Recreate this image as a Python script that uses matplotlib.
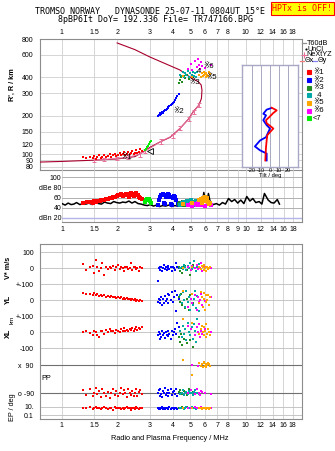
import numpy as np
import matplotlib
matplotlib.use('Agg')
import matplotlib.pyplot as plt
from matplotlib.lines import Line2D
from matplotlib.ticker import NullLocator

plt.rcParams['font.family'] = ['Liberation Sans', 'DejaVu Sans', 'Noto Sans CJK JP']

# axis ticks
freq_ticks = [1, 1.5, 2, 3, 4, 5, 6, 7, 8, 10, 12, 14, 16, 18]
freq_labels = ['1', '1.5', '2', '3', '4', '5', '6', '7', '8', '10', '12', '14', '16', '18']
amp_ticks = [1, 1.5, 2, 3, 4, 5, 6, 7, 8, 9, 10, 12, 14, 16, 18]
amp_labels = ['1', '1.5', '2', '3', '4', '5', '6', '7', '8', '9', '10', '12', '14', '16', '18']
height_ticks = [80, 90, 100, 120, 150, 200, 300, 400, 600, 800]

# true height profile (MHz, km)
prof_f = [0.76, 1.0, 1.5, 2.0, 2.5, 2.75, 3.0, 3.42, 3.88, 4.4, 4.9, 5.17, 5.55, 5.74,
          5.78, 5.72, 5.5, 5.1, 4.38, 3.63, 3.0, 2.5, 2.0]
prof_h = [87, 88, 90, 92, 96, 104, 113, 125, 136, 160, 190, 215, 242, 273,
          318, 350, 372, 393, 458, 515, 580, 660, 745]

# NeXtYZ points
nxyz_f = [1.50, 1.70, 2.00, 2.30, 2.65, 2.85, 3.45, 4.00, 4.40, 4.90, 5.20, 5.55]
nxyz_h = [90, 91, 93, 95, 100, 106, 126, 140, 160, 190, 215, 242]
nxyz_err = [3, 3, 3, 3, 4, 4, 5, 5, 6, 7, 8, 9]

# echo 1 (red)
f_red = [1.30, 1.36, 1.42, 1.47, 1.50, 1.53, 1.56, 1.60, 1.63, 1.66,
         1.70, 1.74, 1.78, 1.82, 1.86, 1.90, 1.94, 1.98, 2.02, 2.06,
         2.10, 2.14, 2.18, 2.22, 2.26, 2.30, 2.34, 2.38, 2.42, 2.46,
         2.50, 2.54, 2.58, 2.62, 2.67, 2.72]
h_red = [95, 93, 96, 94, 97, 92, 95, 98, 94, 96, 99, 95, 97, 100, 96, 98, 101, 97, 99, 103,
         98, 100, 104, 99, 101, 105, 100, 102, 106, 101, 103, 108, 102, 105, 110, 107]
amp_red = [50, 51, 52, 50, 53, 52, 54, 53, 55, 56, 55, 57, 58, 60, 59, 62, 61, 63, 65, 64,
           66, 63, 65, 67, 64, 62, 66, 68, 65, 63, 67, 69, 64, 62, 60, 58]
vs_red = [25, -10, 5, 15, -30, 50, 10, -20, 0, 30, -40, 5, -5, 10, 0, 15, -10, 5, 20, -5,
          10, 0, -15, 5, 10, -5, 0, 35, -10, 5, 10, -5, 0, -20, 5, 0]
yl_red = [45, 40, 42, 35, 48, 30, 38, 28, 32, 25, 30, 22, 25, 20, 24, 18, 22, 15, 20, 12,
          18, 10, 15, 8, 12, 5, 10, 2, 8, 0, 5, -2, 3, -5, 0, -3]
xl_red = [0, 5, -5, -15, 10, 0, -20, -30, 5, 10, -10, 15, 0, 20, 5, 10, -5, 15, 10, 0,
          20, 5, 25, 10, 15, 5, 20, 15, 25, 10, 20, 30, 15, 25, 20, 30]
pp_red = [-70, -100, -60, -110, -85, -55, -95, -75, -115, -65, -90, -105, -80, -120, -90, -60,
          -100, -75, -110, -85, -55, -95, -70, -90, -115, -65, -85, -100, -75, -110, -90, -60,
          -105, -80, -70, -95]
ep_red = [6, 4, 8, 3, 5, 7, 4, 6, 3, 5, 9, 4, 3, 6, 5, 2, 7, 4, 5, 4,
          3, 6, 3, 5, 8, 4, 5, 2, 6, 5, 3, 7, 4, 3, 5, 4]

# echo 2 (blue)
f_blue = [3.32, 3.36, 3.40, 3.44, 3.48, 3.52, 3.56, 3.60, 3.64, 3.68,
          3.72, 3.76, 3.80, 3.85, 3.90, 3.95, 4.00, 4.06, 4.12, 4.18, 4.25, 4.32]
h_blue = [198, 204, 203, 209, 208, 214, 212, 219, 221, 224, 228, 233, 231, 238, 243, 247,
          253, 259, 266, 274, 284, 296]
amp_blue = [45, 55, 62, 64, 65, 66, 64, 50, 47, 62, 65, 66, 64, 62, 48, 46, 60, 63, 61, 55, 47, 45]
vs_blue = [-80, 0, 10, -10, 5, -15, 0, 20, -5, 10, -10, 0, 15, -5, 5, -20, 10, 0, -10, 30, 5, 0]
yl_blue = [-10, 10, -20, 0, 20, -30, 5, -15, 25, -5, 10, 40, -20, 30, 0, 50, -10, 20, 60, -70, 30, 10]
xl_blue = [-20, 0, -40, -10, -30, 10, -20, -5, -35, 0, -15, -25, 10, -10, -40, 5, -20, 0, 20, -10, 60, 30]
pp_blue = [-90, -70, -105, -60, -95, -115, -75, -90, -55, -100, -85, -70, -110, -90, -65, -100,
           -80, -75, -95, -60, -105, -85]
ep_blue = [5, 3, 6, 3, 4, 7, 3, 5, 3, 6, 4, 3, 5, 7, 3, 4, 6, 3, 5, 4, 3, 6]

# echo 3 (dark green)
f_dg = [4.35, 4.40, 4.45, 4.52, 4.60, 4.70, 4.80, 4.90, 5.00, 5.15]
h_dg = [360, 380, 400, 370, 410, 395, 420, 390, 430, 405]
amp_dg = [48, 50, 46, 52, 45, 49, 51, 47, 50, 46]
vs_dg = [10, -20, 0, -30, 5, 15, -10, 0, -45, 20]
yl_dg = [20, -10, 40, -30, 0, -50, 10, -60, 30, -20]
xl_dg = [-30, -60, -10, -80, -40, 20, -70, 0, -50, -90]
pp_dg = [-80, -70, -90, -95, -75, -85, -100, -65, -90, -80]
ep_dg = [5, 6, 4, 8, 3, 5, 7, 4, 6, 5]

# echo 4 (teal)
f_tl = [4.40, 4.48, 4.55, 4.62, 4.70, 4.76, 4.84, 4.92, 5.00, 5.08, 5.15, 5.22, 5.30, 5.38, 5.45, 5.55]
h_tl = [420, 410, 440, 400, 430, 415, 450, 405, 435, 420, 445, 410, 430, 400, 440, 415]
amp_tl = [45, 50, 48, 52, 47, 53, 46, 50, 55, 48, 52, 46, 50, 54, 47, 49]
vs_tl = [0, 10, -5, 20, 5, -10, 15, 0, 30, -5, 10, 45, 0, -15, 5, 25]
yl_tl = [30, -20, 50, 0, -40, 60, -10, 20, -60, 40, -30, 10, 55, -50, 25, -70]
xl_tl = [10, -30, 40, -10, 20, -50, 60, 0, -20, 30, -40, 50, 10, -60, 80, -10]
pp_tl = [-95, -85, -70, -100, -90, -80, -95, -75, -90, -85, -100, -80, -70, -90, -85, -95]
ep_tl = [5, 4, 6, 3, 5, 7, 4, 6, 5, 8, 4, 5, 6, 3, 5, 4]

# echo 5 (orange)
f_or = [4.56, 5.10, 5.55, 5.70, 5.78, 5.85, 5.90, 5.95, 6.00, 6.05, 6.10, 6.15, 6.20, 6.28, 6.38]
h_or = [410, 400, 420, 405, 430, 410, 440, 415, 425, 400, 435, 420, 410, 445, 425]
amp_or = [48, 50, 55, 58, 50, 60, 56, 53, 62, 57, 54, 59, 51, 48, 50]
vs_or = [0, 10, 10, -5, 15, 5, -10, 20, 0, -15, 10, 5, -5, 0, 5]
yl_or = [60, 40, -20, 50, 20, -40, 10, 45, -60, 30, -10, 0, 35, -30, 20]
xl_or = [80, 60, -10, 20, 40, 0, -20, 30, 10, -30, 50, -10, 20, 0, -20]
pp_or = [122, 26, 100, 85, 95, 80, 110, 100, 85, 95, 80, 90, 105, 95, 85]
ep_or = [5, 4, 6, 4, 3, 5, 6, 4, 5, 3, 6, 4, 5, 3, 4]

# echo 6 (magenta)
f_mg = [4.85, 5.05, 5.12, 5.30, 5.40, 5.48, 5.55, 5.62, 5.70, 5.80, 6.00, 6.45]
h_mg = [470, 510, 455, 540, 480, 560, 500, 465, 530, 490, 475, 500]
amp_mg = [45, 47, 44, 48, 46, 49, 45, 47, 50, 46, 44, 46]
vs_mg = [5, -10, 15, 0, 20, -5, 10, 0, 30, -15, 5, 0]
yl_mg = [-40, 10, -20, 30, -60, 20, -10, 0, 40, -30, -5, 20]
xl_mg = [40, 20, 60, -20, 30, 0, 50, -30, 10, -10, 20, 0]
pp_mg = [-85, -70, 90, -95, -60, 85, -90, -100, -75, -80, -90, -95]
ep_mg = [5, 6, 4, 7, 5, 6, 4, 5, 7, 6, 5, 6]

# echo 7 (bright green), height and amplitude only
f_gr = [2.82, 2.86, 2.90, 2.94, 2.98, 3.02, 3.06]
h_gr = [108, 111, 114, 117, 120, 124, 128]
amp_gr = [52, 56, 58, 55, 57, 54, 50]

# noise amplitude trace
f_noise = [1.00, 1.04, 1.08, 1.12, 1.16, 1.20, 1.25, 1.30, 1.35, 1.40,
           1.46, 1.52, 1.58, 1.64, 1.70, 1.77, 1.84, 1.91, 1.98, 2.06,
           2.14, 2.22, 2.31, 2.40, 2.49, 2.59, 2.69, 2.80, 2.91, 3.02,
           3.14, 3.26, 3.39, 3.52, 3.66, 3.80, 3.95, 4.10, 4.26, 4.43,
           4.60, 4.78, 4.97, 5.16, 5.36, 5.57, 5.79, 5.90, 6.02, 6.15,
           6.25, 6.40, 6.65, 6.90, 7.17, 7.45, 7.74, 8.04, 8.36, 8.68,
           9.02, 9.37, 9.74, 10.1, 10.5, 10.9, 11.3, 11.8, 12.2, 12.6,
           13.2, 13.7, 14.2, 14.8, 15.2]
noise_db = [48, 45, 49, 46, 47, 50, 46, 48, 47, 49,
            46, 50, 48, 47, 51, 49, 48, 52, 50, 49,
            51, 50, 53, 49, 52, 48, 47, 45, 44, 46,
            43, 45, 42, 44, 43, 45, 42, 44, 43, 46,
            44, 47, 45, 48, 46, 50, 47, 70, 52, 49,
            68, 50, 46, 48, 45, 50, 47, 58, 52, 56,
            49, 55, 48, 62, 53, 58, 50, 52, 47, 68,
            55, 50, 49, 56, 47]

# tilt profiles (deg, km)
tiltx = [1.9, 7.4, 3.7, -0.7, -4.4, -3.7, 1.9, 3.7, 0.0, -3.0, -3.7, -4.4, -5.2]
tiltx_h = [233, 222, 212, 197, 186, 176, 164, 160, 150, 142, 129, 115, 90]
tilty = [1.1, -3.7, -7.4, -4.4, -7.4, -3.7, 0.0, -1.9, -4.4, -11.0, -16.7, -11.0, -3.7, -3.7]
tilty_h = [231, 225, 209, 203, 186, 170, 160, 150, 137, 129, 116, 108, 102, 90]

# lower panel layout
low_ticks = [1042, 942, 842, 742, 642, 542, 442, 337.5, 160.5, 77, 25]
low_labels = ['100', '0', '+-100', '0', '+-100', '0', '-100', 'x  90', 'o -90', '10.', '0.1']

C_RED, C_BLUE, C_DG, C_TL = '#ff0000', '#0000ff', '#228b22', '#00a8a8'
C_OR, C_MG, C_GR = '#ffa500', '#ff00ff', '#00ee00'

echoes = [
    (C_RED, f_red, h_red, amp_red, vs_red, yl_red, xl_red, pp_red, ep_red),
    (C_BLUE, f_blue, h_blue, amp_blue, vs_blue, yl_blue, xl_blue, pp_blue, ep_blue),
    (C_DG, f_dg, h_dg, amp_dg, vs_dg, yl_dg, xl_dg, pp_dg, ep_dg),
    (C_TL, f_tl, h_tl, amp_tl, vs_tl, yl_tl, xl_tl, pp_tl, ep_tl),
    (C_MG, f_mg, h_mg, amp_mg, vs_mg, yl_mg, xl_mg, pp_mg, ep_mg),
    (C_OR, f_or, h_or, amp_or, vs_or, yl_or, xl_or, pp_or, ep_or),
]

W, H = 335, 451
def fx(px): return px / W
def fy(py): return 1 - py / H
def rect(x0, y0, x1, y1):
    return [fx(x0), fy(y1), fx(x1) - fx(x0), fy(y0) - fy(y1)]

GRID = '#cfcfcf'
EDGE = '#8c8c8c'
TS = 5

def style(ax):
    for s in ax.spines.values():
        s.set_color(EDGE)
        s.set_linewidth(0.8)
    ax.tick_params(length=0, labelsize=TS)
    ax.xaxis.set_minor_locator(NullLocator())
    ax.yaxis.set_minor_locator(NullLocator())
    ax.set_axisbelow(True)

fig = plt.figure(figsize=(W / 100, H / 100), dpi=100)

# header
fig.text(fx(150), fy(12), 'TROMSO NORWAY   DYNASONDE 25-07-11 0804UT 15\u00b0E',
         ha='center', va='center', family='DejaVu Sans Mono', fontsize=6)
fig.text(fx(155), fy(20), '8pBP6It DoY= 192.336 File= TR747166.BPG',
         ha='center', va='center', family='DejaVu Sans Mono', fontsize=6)
fig.text(fx(302.5), fy(8.5), 'HPTx is OFF!', ha='center', va='center', color='red',
         family='DejaVu Sans Mono', fontsize=6,
         bbox=dict(facecolor='yellow', edgecolor='red', lw=0.8, pad=1.2))

# ---- height panel
ax1 = fig.add_axes(rect(40, 39, 302, 170))
ax1.set_xscale('log')
ax1.set_yscale('log')
ax1.set_xlim(0.762, 20.2)
ax1.set_ylim(75.4, 800)
ax1.set_xticks(freq_ticks, freq_labels)
ax1.set_yticks(height_ticks, [str(h) for h in height_ticks])
style(ax1)
ax1.xaxis.tick_top()
ax1.tick_params(axis='x', length=0, pad=2, labelsize=TS)
ax1.tick_params(axis='y', pad=5)
ax1.grid(True, color=GRID, lw=0.6)

ax1.plot(prof_f, prof_h, color='#a8002c', lw=0.8, zorder=3)
ax1.errorbar(nxyz_f, nxyz_h, yerr=nxyz_err, color='#e8709a', lw=0.7,
             capsize=1.2, capthick=0.7, zorder=3)
for c, f, h, *_ in echoes:
    ax1.scatter(f, h, s=4, marker='s', color=c, lw=0, zorder=4)
ax1.scatter(f_gr, h_gr, s=4, marker='s', color=C_GR, lw=0, zorder=4)
ax1.plot([3.0], [106], marker='<', ms=4, mfc='none', mec='black', mew=0.6, zorder=5)
for txt, f, h in [('\u203b1', 2.1, 94), ('\u203b2', 4.05, 216), ('\u203b3', 4.9, 362),
                  ('4', 5.45, 445), ('\u203b5', 6.1, 402), ('\u203b6', 5.85, 490)]:
    ax1.text(f, h, txt, fontsize=5.5, ha='left', va='center', zorder=6)

# ---- amplitude panel
ax2 = fig.add_axes(rect(62, 170, 302, 222))
ax2.set_facecolor('none')
ax2.set_xscale('log')
ax2.set_xlim(1.0, 20.16)
ax2.set_ylim(11.5, 114.5)
ax2.set_xticks(amp_ticks, amp_labels)
ax2.set_yticks([20, 40, 60, 80, 100], ['dBn 20', '40', '60', 'dBe 80', '100'])
style(ax2)
ax2.spines['left'].set_visible(False)
ax2.spines['top'].set_visible(False)
ax2.tick_params(axis='x', pad=3.2)
ax2.tick_params(axis='y', pad=0.5)
ax2.grid(axis='x', color=GRID, lw=0.6)
for yv in [40, 60, 80, 100]:
    ax2.axhline(yv, color='#b0b0b0', lw=0.7, zorder=1)
ax2.axhline(20, color='#b4b4e8', lw=1.0, zorder=1)
ax2.plot(f_noise, noise_db, color='black', lw=1.1, zorder=3)
for c, f, h, amp, *_ in echoes:
    ax2.scatter(f, amp, s=5, marker='s', color=c, lw=0, zorder=4)
ax2.scatter(f_gr, amp_gr, s=5, marker='s', color=C_GR, lw=0, zorder=4)

# ---- tilt inset (drawn above the amplitude panel)
axi = fig.add_axes(rect(242, 65, 298, 167))
axi.set_zorder(5)
axi.set_yscale('log')
axi.set_xlim(-31, 31)
axi.set_ylim(80, 503)
axi.set_xticks([-20, -10, 0, 10, 20], ['-20', '-10', '0', '10', '20'])
axi.set_yticks([])
style(axi)
for s in axi.spines.values():
    s.set_color('#a8a8c4')
    s.set_linewidth(1.0)
axi.tick_params(axis='x', labelsize=4, pad=0.5)
axi.grid(axis='x', color='#a8a8c0', lw=0.7)
axi.plot(tilty, tilty_h, color='blue', lw=1.3)
axi.plot(tiltx, tiltx_h, color='red', lw=1.3)
axi.set_xlabel('Tilt / deg', fontsize=4.2, labelpad=0)

# ---- velocity / position / polarisation panel
ax3 = fig.add_axes(rect(40, 244, 302, 419))
ax3.set_xscale('log')
ax3.set_xlim(0.762, 20.2)
ax3.set_ylim(0, 1093.75)
ax3.set_xticks(freq_ticks, freq_labels)
ax3.set_yticks(low_ticks, low_labels)
style(ax3)
ax3.tick_params(axis='x', pad=2.5)
ax3.tick_params(axis='y', pad=4.5)
ax3.grid(axis='x', color=GRID, lw=0.6)
for u in low_ticks:
    dark = u in (337.5, 160.5)
    ax3.axhline(u, color='#707070' if dark else '#bdbdbd', lw=0.8 if dark else 0.6, zorder=1)

for c, f, h, amp, vs, yl, xl, pp, ep in echoes:
    kw = dict(s=3.5, marker='s', color=c, lw=0, zorder=4)
    ax3.scatter(f, np.array(vs) + 942, **kw)
    ax3.scatter(f, np.array(yl) + 742, **kw)
    ax3.scatter(f, np.array(xl) + 542, **kw)
    ax3.scatter(f, 249 + np.array(pp) * 0.983, **kw)
    ax3.scatter(f, 25 + (np.log10(ep) + 1) * 26, **kw)

# axis titles
fig.text(fx(12), fy(85), "R', R / km", rotation=90, ha='center', va='center',
         fontsize=5.2, fontweight='bold')
fig.text(fx(8), fy(268), 'V* m/s', rotation=90, ha='center', va='center',
         fontsize=5.2, fontweight='bold')
fig.text(fx(8), fy(299), 'YL', rotation=90, ha='center', va='center',
         fontsize=5.2, fontweight='bold')
fig.text(fx(12), fy(320), 'km', rotation=90, ha='center', va='center', fontsize=4.5)
fig.text(fx(8), fy(333), 'XL', rotation=90, ha='center', va='center',
         fontsize=5.2, fontweight='bold')
fig.text(fx(46.5), fy(379), 'PP', ha='center', va='center', fontsize=5.2)
fig.text(fx(13), fy(407), 'EP / deg', rotation=90, ha='center', va='center', fontsize=5.2)
fig.text(fx(170), fy(439), 'Radio and Plasma Frequency / MHz', ha='center', va='center',
         fontsize=5.3)

# legend
def leg_line(x0, x1, y, color):
    fig.add_artist(Line2D([fx(x0), fx(x1)], [fy(y), fy(y)], transform=fig.transFigure,
                          color=color, lw=0.9))

def leg_mark(x, y, color, marker, ms, mew=0.8):
    fig.add_artist(Line2D([fx(x)], [fy(y)], transform=fig.transFigure, lw=0,
                          marker=marker, ms=ms, color=color, mec=color, mew=mew))

LS = 5.2
leg_line(302, 306, 43.3, '#909090')
fig.text(fx(307), fy(43.3), 'T60dB', va='center', fontsize=LS)
leg_mark(305.5, 49.3, 'black', '.', 1.5)
fig.text(fx(308), fy(49.3), 'UnCl', va='center', fontsize=LS)
leg_mark(303.5, 55, '#e8709a', '+', 4)
fig.text(fx(306), fy(55), 'NeXtYZ', va='center', fontsize=LS)
leg_line(300, 304, 60.7, '#f08080')
fig.text(fx(304.5), fy(60.7), '\u0398x', va='center', fontsize=LS)
leg_line(312, 317, 60.7, '#8080f0')
fig.text(fx(317.5), fy(60.7), '\u0398y', va='center', fontsize=LS)

leg_items = [(C_RED, '\u203b1'), (C_BLUE, '\u203b2'), (C_DG, '\u203b3'), (C_TL, '  4'),
             (C_OR, '\u203b5'), (C_MG, '\u203b6'), (C_GR, '<7')]
leg_y = [72.3, 80, 87.7, 95.3, 103, 110.7, 118.3]
for (c, lab), y in zip(leg_items, leg_y):
    leg_mark(309, y, c, 's', 2.5)
    fig.text(fx(313), fy(y), lab, va='center', fontsize=5.5)

fig.savefig('out.png', dpi=100)
